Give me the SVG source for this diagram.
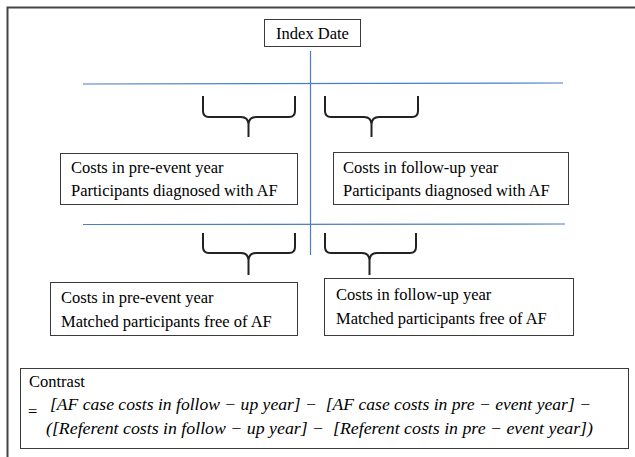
<svg xmlns="http://www.w3.org/2000/svg" width="635" height="457" viewBox="0 0 635 457">
<defs>
<style>
.box{fill:#fff;stroke:#3a3a3a;stroke-width:1}
.t{font-family:"Liberation Serif","Times New Roman",serif;font-size:16.5px;fill:#000}
.m{font-family:"Liberation Serif","DejaVu Serif",serif;font-style:italic;font-size:17px;fill:#000;white-space:pre}
.blue{stroke:#4a7ec2;stroke-width:1.2;fill:none}
.br{stroke:#222;stroke-width:2;fill:none;stroke-linejoin:round}
</style>
</defs>
<rect x="0" y="0" width="635" height="457" fill="#fff"/>
<path d="M7.5,457 V7.5 H635" fill="none" stroke="#444" stroke-width="2"/>
<g id="connectors">
<line class="blue" x1="83" y1="84" x2="563" y2="83"/>
<line class="blue" x1="83" y1="224.5" x2="565" y2="224"/>
<line class="blue" x1="310.5" y1="51" x2="310.5" y2="255"/>
<path class="br" d="M203,96 V111 Q203,117 209,117 H241 Q248,117 248.5,124 V137 M248.5,124 Q249,117 256,117 H289 Q295,117 295,111 V96"/>
<path class="br" d="M325,96 V111 Q325,117 331,117 H364 Q371,117 371.5,124 V137 M371.5,124 Q372,117 379,117 H412 Q418,117 418,111 V96"/>
<path class="br" d="M203,233 V247 Q203,253 209,253 H241 Q248,253 248.5,260 V275 M248.5,260 Q249,253 256,253 H289 Q295,253 295,247 V233"/>
<path class="br" d="M325,233 V247 Q325,253 331,253 H362 Q369,253 369.5,260 V275 M369.5,260 Q370,253 377,253 H410 Q416,253 416,247 V233"/>
</g>
<g id="index-date">
<rect class="box" x="264.5" y="19.5" width="96" height="27"/>
<text class="t" x="312.5" y="39" text-anchor="middle">Index Date</text>
</g>
<g id="af-pre">
<rect class="box" x="60.5" y="153.5" width="237" height="51"/>
<text class="t" x="71" y="173">Costs in pre-event year</text>
<text class="t" x="71" y="196">Participants diagnosed with AF</text>
</g>
<g id="af-follow">
<rect class="box" x="333.5" y="152.5" width="235" height="52"/>
<text class="t" x="343" y="173">Costs in follow-up year</text>
<text class="t" x="343" y="196">Participants diagnosed with AF</text>
</g>
<g id="ref-pre">
<rect class="box" x="50.5" y="282.5" width="247" height="53"/>
<text class="t" x="61" y="303">Costs in pre-event year</text>
<text class="t" x="61" y="327">Matched participants free of AF</text>
</g>
<g id="ref-follow">
<rect class="box" x="324.5" y="278.5" width="249" height="57"/>
<text class="t" x="336" y="300">Costs in follow-up year</text>
<text class="t" x="336" y="324">Matched participants free of AF</text>
</g>
<g id="contrast">
<rect class="box" x="20.5" y="368.5" width="608" height="80" stroke="#666"/>
<text class="t" x="29" y="387">Contrast</text>
<text class="t" x="28" y="417">=</text>
<text class="m" x="50" y="410" textLength="541" lengthAdjust="spacingAndGlyphs" xml:space="preserve">[AF case costs in follow − up year] −  [AF case costs in pre − event year] −</text>
<text class="m" x="46" y="434" textLength="547" lengthAdjust="spacingAndGlyphs" xml:space="preserve">([Referent costs in follow − up year] −  [Referent costs in pre − event year])</text>
</g>
</svg>
